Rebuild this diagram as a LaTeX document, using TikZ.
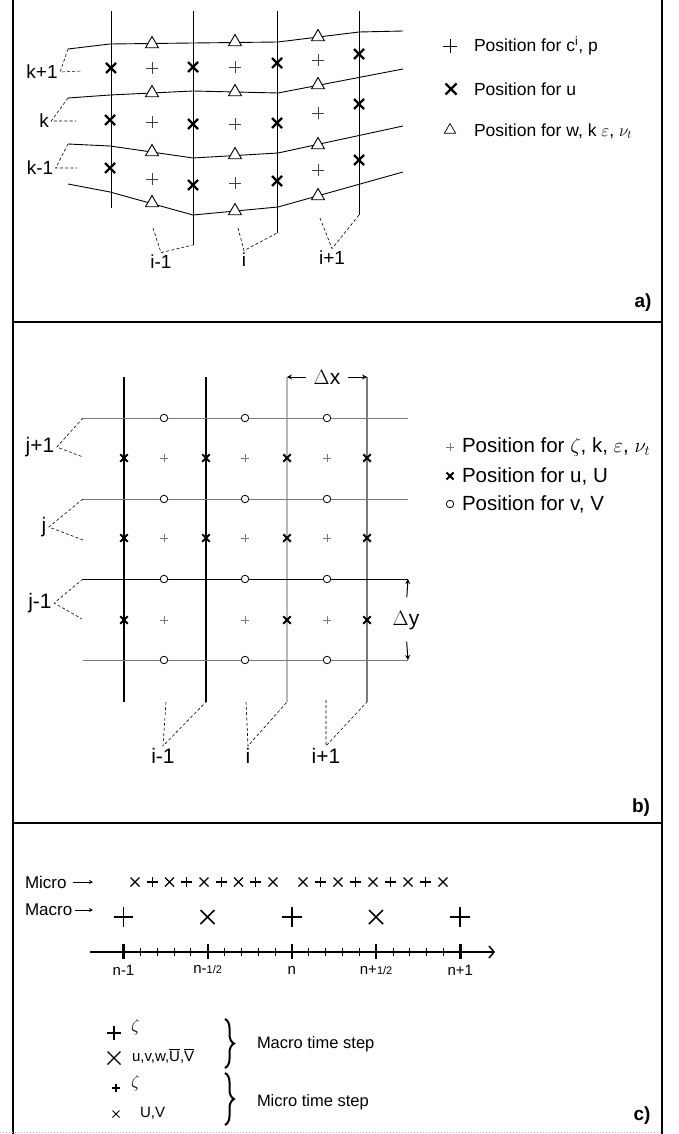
\documentclass[tikz,border=0pt]{standalone}
\usepackage{fontspec}
\setmainfont{Liberation Sans}
\usepackage{tikz}
\usetikzlibrary{
  positioning, arrows.meta, shapes.geometric, shapes.misc,
  decorations.pathreplacing
}
\definecolor{gridBlack}{HTML}{000000}
\definecolor{gridGray}{HTML}{7A7A7A}
\definecolor{gridMid}{HTML}{5E5E5E}
\definecolor{gridLight}{HTML}{B8B8B8}
\newcommand{\barred}[1]{$\overline{\mbox{#1}}$}
\newcommand{\halfsub}{{\fontsize{11}{12}\selectfont 1/2}}

\begin{document}
\begin{tikzpicture}[
  x=1pt, y=-1pt,
  every node/.style={inner sep=0pt, outer sep=0pt, text=black},
  frame/.style={line width=2.2pt, gridBlack},
  gridline/.style={line width=0.9pt, gridBlack},
  leader/.style={dash pattern=on 3pt off 2.2pt, line width=0.6pt},
  xmark/.style n args={2}{cross out, draw, minimum size=#1, line width=#2},
  pmark/.style n args={2}{cross out, rotate=45, draw, minimum size=#1, line width=#2},
  tmark/.style={regular polygon, regular polygon sides=3, draw,
    minimum size=15pt, line width=0.9pt, fill=white},
  omark/.style={circle, draw, minimum size=7.5pt, line width=0.8pt, fill=white},
  alabel/.style={outer sep=2.5pt, font=\fontsize{19}{21}\selectfont},
  blabel/.style={outer sep=2.5pt, font=\fontsize{21}{23}\selectfont},
  keytext/.style={anchor=west, font=\fontsize{17.5}{20}\selectfont},
  ctext/.style={outer sep=2pt, font=\fontsize{17}{19}\selectfont},
  ticklabel/.style={font=\fontsize{15}{17}\selectfont},
  darrow/.style={-{Stealth[length=5pt,width=5pt]}, line width=1pt},
  brace/.style={decorate, decoration={brace, amplitude=9pt}, line width=2pt},
  panel/.style={font=\bfseries\fontsize{19}{21}\selectfont},
]
\useasboundingbox (0,0) rectangle (678,1134);

% === FRAME ===
\draw[frame] (13,0) -- (13,1134);
\draw[frame] (662,0) -- (662,1134);
\draw[frame] (13,322) -- (662,322);
\draw[frame] (13,823) -- (662,823);
\draw[gridLight, dotted, line width=1pt] (0,1132) -- (662,1132);

\node[panel] (lbl-a) at (643,303) {a)};
\node[panel] (lbl-b) at (641,808) {b)};
\node[panel] (lbl-c) at (642,1116) {c)};

% === PANEL A: SIGMA GRID ===
\foreach \vx/\vb [count=\n] in {111/208, 193/245, 277/233, 359/215} {
  \coordinate (a-top\n) at (\vx,11);
  \coordinate (a-bot\n) at (\vx,\vb);
  \draw[gridline] (a-top\n) -- (a-bot\n);
}

% layer interfaces
\coordinate (a-s1) at (68,49);
\coordinate (a-s2) at (68,98);
\coordinate (a-s3) at (68,144);
\draw[gridline] (a-s1) -- (110,44) -- (193,43) -- (278,42) -- (359,32) -- (403,31);
\draw[gridline] (a-s2) -- (110,95) -- (193,91) -- (278,93) -- (403,69);
\draw[gridline] (a-s3) -- (110,146) -- (193,158) -- (278,153) -- (403,126);
\draw[gridline] (68,184) -- (110,192) -- (193,215) -- (278,207) -- (403,172);

% u points
\foreach \px/\py [count=\n] in {111/68, 193/67, 277/63, 359/54,
    110/120, 193/124, 277/123, 359/104, 110/168, 193/185, 277/181, 359/160}
  \node[xmark={10pt}{2.4pt}] (a-u\n) at (\px,\py) {};

% c, p points
\foreach \px/\py [count=\n] in {152/68, 235/67, 318/60, 152/122, 235/124,
    318/113, 152/179, 235/183, 318/170}
  \node[pmark={8.5pt}{0.8pt}, draw=black!75] (a-c\n) at (\px,\py) {};

% w points
\foreach \px/\py [count=\n] in {152/44, 235/42, 318/37, 152/93, 235/92, 318/85,
    152/152, 235/155, 318/145, 152/203, 235/211, 318/196}
  \node[tmark] (a-w\n) at (\px,\py) {};

% layer labels
\node[alabel] (a-kp1) at (42,72) {k+1};
\node[alabel] (a-k) at (44,121) {k};
\node[alabel] (a-km1) at (40,168) {k-1};
\coordinate (a-r1) at (82,71);
\coordinate (a-r2) at (76,121);
\coordinate (a-r3) at (77,168);
\draw[leader] (a-s1) -- (a-kp1.east) -- (a-r1);
\draw[leader] (a-s2) -- (a-k.east) -- (a-r2);
\draw[leader] (a-s3) -- (a-km1.east) -- (a-r3);

% column labels
\node[alabel] (a-im1) at (161,262) {i-1};
\node[alabel] (a-i) at (244,260) {i};
\node[alabel] (a-ip1) at (332,258) {i+1};
\coordinate (a-m1) at (153,228);
\coordinate (a-m2) at (238,228);
\coordinate (a-m3) at (320,218);
\draw[leader] (a-m1) -- (a-im1.north) -- (a-bot2);
\draw[leader] (a-m2) -- (a-i.north) -- (a-bot3);
\draw[leader] (a-m3) -- (a-ip1.north) -- (a-bot4);

% legend
\node[pmark={10pt}{0.8pt}] (a-key1) at (450,46) {};
\node[xmark={11pt}{2.2pt}] (a-key2) at (451,89) {};
\node[tmark, minimum size=13pt, line width=0.7pt] (a-key3) at (450,130) {};
\node[keytext] (a-txt1) at (474,46) {Position for c\textsuperscript{i}, p};
\node[keytext] (a-txt2) at (474,89) {Position for u};
\node[keytext] (a-txt3) at (474,131) {Position for w, k $\varepsilon$, $\nu_t$};

% === PANEL B: CARTESIAN GRID ===
\foreach \vx/\vc [count=\n] in {124/gridBlack, 206/gridBlack, 287/gridLight, 367/gridGray} {
  \coordinate (b-top\n) at (\vx,377);
  \coordinate (b-bot\n) at (\vx,702);
  \draw[gridline, draw=\vc, line width=1.2pt] (b-top\n) -- (b-bot\n);
}
\foreach \hy/\hc [count=\n] in {418/gridGray, 499/gridGray, 579/gridBlack, 660/gridGray} {
  \coordinate (b-left\n) at (83,\hy);
  \coordinate (b-right\n) at (408,\hy);
  \draw[line width=0.8pt, draw=\hc] (b-left\n) -- (b-right\n);
}

% u, U points
\foreach \px/\py [count=\n] in {124/458, 206/458, 287/458, 367/458, 124/538,
    206/538, 287/538, 367/538, 124/620, 287/620, 367/620}
  \node[xmark={7.5pt}{1.8pt}] (b-u\n) at (\px,\py) {};

% zeta points
\foreach \px in {164,245,327}
  \foreach \py in {458,538,620}
    \node[pmark={5.5pt}{0.7pt}, draw=gridGray] (b-z-\px-\py) at (\px,\py) {};

% v, V points
\foreach \px in {164,245,327}
  \foreach \py in {418,499,579,660}
    \node[omark] (b-v-\px-\py) at (\px,\py) {};

% row labels
\node[blabel] (b-jp1) at (40,447) {j+1};
\node[blabel] (b-j) at (44,527) {j};
\node[blabel] (b-jm1) at (40,603) {j-1};
\coordinate (b-r1) at (83,457);
\coordinate (b-r2) at (83,540);
\coordinate (b-r3) at (82,619);
\draw[leader] (b-left1) -- (b-jp1.east) -- (b-r1);
\draw[leader] (b-left2) -- (b-j.east) -- (b-r2);
\draw[leader] (b-left3) -- (b-jm1.east) -- (b-r3);

% column labels
\node[blabel] (b-im1) at (163,756) {i-1};
\node[blabel] (b-i) at (248,756) {i};
\node[blabel] (b-ip1) at (326,756) {i+1};
\coordinate (b-m1) at (166,702);
\coordinate (b-m2) at (246,702);
\coordinate (b-m3) at (326,700);
\draw[leader] (b-m1) -- (b-im1.north) -- (b-bot2);
\draw[leader] (b-m2) -- (b-i.north) -- (b-bot3);
\draw[leader] (b-m3) -- (b-ip1.north) -- (b-bot4);

% spacing
\node[blabel] (b-dx) at (327,377) {$\Delta$x};
\draw[darrow, shorten <=5pt] (b-dx.west) -- (b-top3);
\draw[darrow, shorten <=5pt] (b-dx.east) -- (b-top4);
\node[blabel] (b-dy) at (406,621) {$\Delta$y};
\draw[darrow, shorten <=12pt] (b-dy.north) -- (b-right3);
\draw[darrow, shorten <=9pt] (b-dy.south) -- (b-right4);

% legend
\node[pmark={6pt}{0.7pt}, draw=gridGray] (b-key1) at (450,447) {};
\node[xmark={7pt}{1.8pt}] (b-key2) at (450,476) {};
\node[omark] (b-key3) at (450,504) {};
\node[keytext, font=\fontsize{20.5}{22}\selectfont] (b-txt1) at (462,447)
  {Position for $\zeta$, k, $\varepsilon$, $\nu_t$};
\node[keytext, font=\fontsize{20.5}{22}\selectfont] (b-txt2) at (462,476) {Position for u, U};
\node[keytext, font=\fontsize{20.5}{22}\selectfont] (b-txt3) at (462,504) {Position for v, V};

% === PANEL C: TIME STEPPING ===
\node[ctext, anchor=west] (c-micro) at (23,882) {Micro};
\node[ctext, anchor=west] (c-macro) at (23,910) {Macro};
\coordinate (c-microtip) at (93,882);
\coordinate (c-macrotip) at (93,910);
\draw[-{Stealth[length=4pt,width=4pt]}, line width=0.8pt, shorten <=4pt] (c-micro.east) -- (c-microtip);
\draw[-{Stealth[length=4pt,width=4pt]}, line width=0.8pt, shorten <=1pt] (c-macro.east) -- (c-macrotip);

% micro steps
\foreach \i in {0,2,4,6,8} {
  \node[xmark={9pt}{1.2pt}] (c-mx-a\i) at ({135+17.25*\i},882) {};
  \node[xmark={9pt}{1.2pt}] (c-mx-b\i) at ({303+17.5*\i},882) {};
}
\foreach \i in {1,3,5,7} {
  \node[pmark={7.5pt}{1.2pt}] (c-mp-a\i) at ({135+17.25*\i},882) {};
  \node[pmark={7.5pt}{1.2pt}] (c-mp-b\i) at ({303+17.5*\i},882) {};
}

% macro steps
\foreach \px [count=\n] in {123.5,292,460}
  \node[pmark={14pt}{1.5pt}] (c-Mp\n) at (\px,917) {};
\foreach \px [count=\n] in {207.5,376}
  \node[xmark={14pt}{1.5pt}] (c-Mx\n) at (\px,917) {};

% time axis
\coordinate (c-ax0) at (90,952);
\coordinate (c-ax1) at (495,952);
\draw[line width=1.5pt, -{Straight Barb[length=5pt,width=12pt]}] (c-ax0) -- (c-ax1);
\foreach \n/\lbl in {0/{n-1}, 1/{n-\halfsub}, 2/{n}, 3/{n+\halfsub}, 4/{n+1}} {
  \coordinate (c-t\n) at ({123.5+84.2*\n},952);
  \draw[line width=2.4pt] ([yshift=8pt]c-t\n) -- ([yshift=-7pt]c-t\n);
  \node[ticklabel] (c-tl\n) at ({123.5+84.2*\n},970) {\lbl};
}
\foreach \n in {0,...,3}
  \foreach \s in {1,...,4}
    \draw[line width=0.8pt] ({123.5+84.2*\n+16.84*\s},948) -- ++(0,8);

% legend
\node[pmark={10.5pt}{2pt}] (c-k1) at (114,1033) {};
\node[anchor=west] (c-kz1) at (131,1027) {\fontsize{16}{17}\selectfont$\zeta$};
\node[xmark={13pt}{1.3pt}] (c-k2) at (114,1058) {};
\node[anchor=west, font=\fontsize{15}{17}\selectfont] (c-kt2) at (132,1056) {u,v,w,\barred{U},\barred{V}};
\node[pmark={5pt}{1.3pt}] (c-k3) at (116,1088) {};
\node[anchor=west] (c-kz3) at (131,1083) {\fontsize{16}{17}\selectfont$\zeta$};
\node[xmark={7pt}{1pt}] (c-k4) at (116,1114) {};
\node[anchor=west, font=\fontsize{15}{17}\selectfont] (c-kt4) at (140,1113) {U,V};

\coordinate (c-b1t) at (225,1019);
\coordinate (c-b1b) at (225,1068);
\coordinate (c-b2t) at (225,1073);
\coordinate (c-b2b) at (225,1125);
\draw[brace] (c-b1t) -- (c-b1b);
\draw[brace] (c-b2t) -- (c-b2b);
\node[anchor=west, font=\fontsize{16.5}{18}\selectfont] (c-step1) at (257,1044) {Macro time step};
\node[anchor=west, font=\fontsize{16.5}{18}\selectfont] (c-step2) at (257,1102) {Micro time step};

\end{tikzpicture}
\end{document}
